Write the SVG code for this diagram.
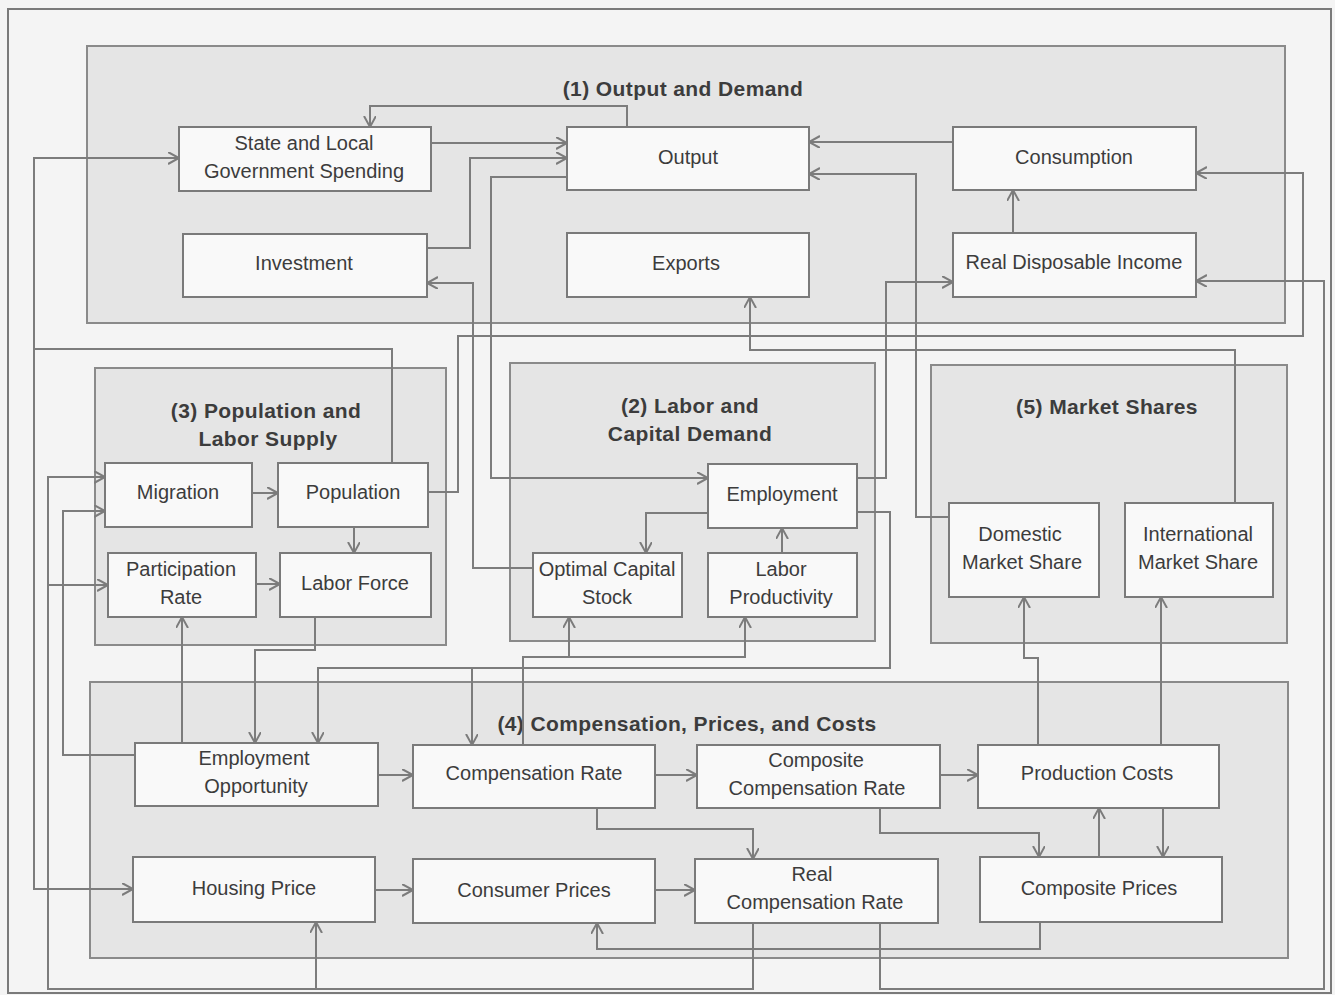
<svg xmlns="http://www.w3.org/2000/svg" width="1335" height="995" viewBox="0 0 1335 995">
<style>
.bg{fill:#f4f4f4}
.frame{fill:none;stroke:#7a7a7a;stroke-width:2}
.grp{fill:#e5e5e5;stroke:#8a8a8a;stroke-width:2}
.node{fill:#f9f9f9;stroke:#7a7a7a;stroke-width:2}
.t{font-family:"Liberation Sans",Arial,sans-serif;font-size:20px;fill:#3c3c3c;text-anchor:middle}
.gt{font-family:"Liberation Sans",Arial,sans-serif;font-size:21px;font-weight:bold;fill:#3c3c3c;text-anchor:middle;letter-spacing:0.4px}
.c{fill:none;stroke:#7c7c7c;stroke-width:2;marker-end:url(#a)}
.n{fill:none;stroke:#7c7c7c;stroke-width:2}
</style>
<defs>
<marker id="a" markerUnits="userSpaceOnUse" markerWidth="14" markerHeight="14" refX="11" refY="6" orient="auto">
<path d="M0,0 L11,6 L0,12" fill="none" stroke="#7c7c7c" stroke-width="2"/>
</marker>
</defs>
<rect class="bg" x="0" y="0" width="1335" height="995"/>
<rect class="frame" x="8" y="9" width="1323" height="984"/>

<g id="group1">
<rect class="grp" x="87" y="46" width="1198" height="277"/>
<text class="gt" x="683" y="96">(1) Output and Demand</text>
</g>
<g id="group3">
<rect class="grp" x="95" y="368" width="351" height="277"/>
<text class="gt" x="266" y="418">(3) Population and</text>
<text class="gt" x="268" y="446">Labor Supply</text>
</g>
<g id="group2">
<rect class="grp" x="510" y="363" width="365" height="278"/>
<text class="gt" x="690" y="413">(2) Labor and</text>
<text class="gt" x="690" y="441">Capital Demand</text>
</g>
<g id="group5">
<rect class="grp" x="931" y="365" width="356" height="278"/>
<text class="gt" x="1107" y="414">(5) Market Shares</text>
</g>
<g id="group4">
<rect class="grp" x="90" y="682" width="1198" height="276"/>
<text class="gt" x="687" y="731">(4) Compensation, Prices, and Costs</text>
</g>

<g id="connectors">
<path class="c" d="M627,127 V106 H370 V127"/>
<path class="c" d="M431,143 H567"/>
<path class="c" d="M427,248 H470 V158 H567"/>
<path class="c" d="M567,177 H491 V478 H708"/>
<path class="c" d="M533,568 H473 V283 H427"/>
<path class="c" d="M953,142 H809"/>
<path class="c" d="M949,517 H916 V174 H809"/>
<path class="c" d="M1013,233 V190"/>
<path class="c" d="M428,492 H458 V336 H1303 V173 H1196"/>
<path class="c" d="M880,923 V989 H1324 V281 H1196"/>
<path class="c" d="M1235,503 V350 H750 V297"/>
<path class="c" d="M857,478 H886 V282 H953"/>
<path class="c" d="M252,493 H278"/>
<path class="c" d="M354,527 V553"/>
<path class="c" d="M256,584 H280"/>
<path class="c" d="M708,513 H646 V553"/>
<path class="c" d="M782,553 V528"/>
<path class="c" d="M392,463 V349 H34 V158 H179"/>
<path class="c" d="M34,349 V889 H133"/>
<path class="c" d="M135,755 H63 V511 H105"/>
<path class="c" d="M753,923 V989 H48 V477 H105"/>
<path class="c" d="M48,585 H108"/>
<path class="c" d="M316,989 V922"/>
<path class="c" d="M182,743 V617"/>
<path class="c" d="M315,617 V650 H255 V743"/>
<path class="c" d="M857,512 H890 V668 H318 V743"/>
<path class="c" d="M472,668 V745"/>
<path class="c" d="M523,745 V657 H745 V617"/>
<path class="c" d="M569,657 V617"/>
<path class="c" d="M378,775 H413"/>
<path class="c" d="M655,775 H697"/>
<path class="c" d="M940,775 H978"/>
<path class="c" d="M597,808 V829 H753 V859"/>
<path class="c" d="M880,808 V833 H1039 V857"/>
<path class="c" d="M1099,857 V808"/>
<path class="c" d="M1163,808 V857"/>
<path class="c" d="M375,890 H413"/>
<path class="c" d="M655,890 H695"/>
<path class="c" d="M1040,922 V949 H597 V923"/>
<path class="c" d="M1038,745 V658 H1024 V597"/>
<path class="c" d="M1161,745 V597"/>
</g>

<g id="state_local">
<rect class="node" x="179" y="127" width="252" height="64"/>
<text class="t" x="304" y="150">State and Local</text>
<text class="t" x="304" y="178">Government Spending</text>
</g>
<g id="output">
<rect class="node" x="567" y="127" width="242" height="63"/>
<text class="t" x="688" y="164">Output</text>
</g>
<g id="consumption">
<rect class="node" x="953" y="127" width="243" height="63"/>
<text class="t" x="1074" y="164">Consumption</text>
</g>
<g id="investment">
<rect class="node" x="183" y="234" width="244" height="63"/>
<text class="t" x="304" y="270">Investment</text>
</g>
<g id="exports">
<rect class="node" x="567" y="233" width="242" height="64"/>
<text class="t" x="686" y="270">Exports</text>
</g>
<g id="real_disposable_income">
<rect class="node" x="953" y="233" width="243" height="64"/>
<text class="t" x="1074" y="269">Real Disposable Income</text>
</g>
<g id="migration">
<rect class="node" x="105" y="463" width="147" height="64"/>
<text class="t" x="178" y="499">Migration</text>
</g>
<g id="population">
<rect class="node" x="278" y="463" width="150" height="64"/>
<text class="t" x="353" y="499">Population</text>
</g>
<g id="participation_rate">
<rect class="node" x="108" y="553" width="148" height="64"/>
<text class="t" x="181" y="576">Participation</text>
<text class="t" x="181" y="604">Rate</text>
</g>
<g id="labor_force">
<rect class="node" x="280" y="553" width="151" height="64"/>
<text class="t" x="355" y="590">Labor Force</text>
</g>
<g id="employment">
<rect class="node" x="708" y="464" width="149" height="64"/>
<text class="t" x="782" y="501">Employment</text>
</g>
<g id="optimal_capital_stock">
<rect class="node" x="533" y="553" width="149" height="64"/>
<text class="t" x="607" y="576">Optimal Capital</text>
<text class="t" x="607" y="604">Stock</text>
</g>
<g id="labor_productivity">
<rect class="node" x="708" y="553" width="149" height="64"/>
<text class="t" x="781" y="576">Labor</text>
<text class="t" x="781" y="604">Productivity</text>
</g>
<g id="domestic_market_share">
<rect class="node" x="949" y="503" width="150" height="94"/>
<text class="t" x="1020" y="541">Domestic</text>
<text class="t" x="1022" y="569">Market Share</text>
</g>
<g id="international_market_share">
<rect class="node" x="1125" y="503" width="148" height="94"/>
<text class="t" x="1198" y="541">International</text>
<text class="t" x="1198" y="569">Market Share</text>
</g>
<g id="employment_opportunity">
<rect class="node" x="135" y="743" width="243" height="63"/>
<text class="t" x="254" y="765">Employment</text>
<text class="t" x="256" y="793">Opportunity</text>
</g>
<g id="compensation_rate">
<rect class="node" x="413" y="745" width="242" height="63"/>
<text class="t" x="534" y="780">Compensation Rate</text>
</g>
<g id="composite_compensation_rate">
<rect class="node" x="697" y="745" width="243" height="63"/>
<text class="t" x="816" y="767">Composite</text>
<text class="t" x="817" y="795">Compensation Rate</text>
</g>
<g id="production_costs">
<rect class="node" x="978" y="745" width="241" height="63"/>
<text class="t" x="1097" y="780">Production Costs</text>
</g>
<g id="housing_price">
<rect class="node" x="133" y="857" width="242" height="65"/>
<text class="t" x="254" y="895">Housing Price</text>
</g>
<g id="consumer_prices">
<rect class="node" x="413" y="859" width="242" height="64"/>
<text class="t" x="534" y="897">Consumer Prices</text>
</g>
<g id="real_compensation_rate">
<rect class="node" x="695" y="859" width="243" height="64"/>
<text class="t" x="812" y="881">Real</text>
<text class="t" x="815" y="909">Compensation Rate</text>
</g>
<g id="composite_prices">
<rect class="node" x="980" y="857" width="242" height="65"/>
<text class="t" x="1099" y="895">Composite Prices</text>
</g>
</svg>
